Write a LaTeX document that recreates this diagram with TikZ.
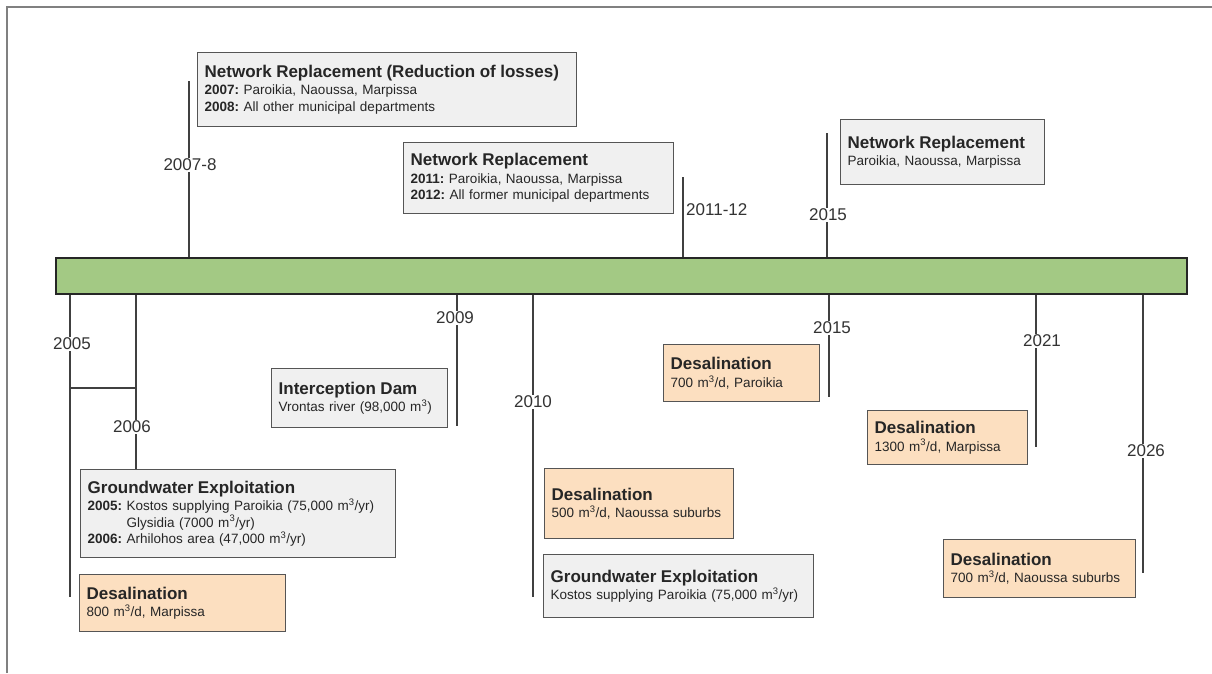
\documentclass[tikz,border=0pt]{standalone}
\usepackage{fontspec}
\setmainfont{Liberation Sans}
\usepackage{tikz}

\definecolor{barGreen}{HTML}{A3C984}
\definecolor{boxGray}{HTML}{F0F0F0}
\definecolor{boxPeach}{HTML}{FCDFC0}
\definecolor{edgeGray}{HTML}{555555}

\newcommand{\cubic}{m\textsuperscript{3}}
\newcommand{\boxtitle}[1]{{\fontsize{17}{20}\selectfont\bfseries #1}\\[1pt]}

\begin{document}
\frenchspacing
\begin{tikzpicture}[x=1pt,y=-1pt,
    infobox/.style={draw=edgeGray, line width=1.4pt, fill=boxGray,
      anchor=north west, inner xsep=7pt, inner ysep=0pt, align=left,
      font=\fontsize{13.5}{16.5}\selectfont, text=black!85},
    desalbox/.style={infobox, fill=boxPeach},
    yearlbl/.style={fill=white, inner sep=1pt,
      font=\fontsize{17}{20}\selectfont, text=black!80},
    tick/.style={draw=black!75, line width=1.3pt},
    timebar/.style={draw=black!85, line width=2pt, fill=barGreen,
      anchor=north west, inner sep=0pt}]

    % Fix the page size
    \useasboundingbox (0,0) rectangle (1212,673);

    % Draw frame
    \draw[black!50, line width=2pt] (7,673) -- (7,7) -- (1212,7);

    % Draw time line
    \node[timebar, minimum width=1131pt, minimum height=36pt] (bar) at (55,257) {};

    % Tick ends above the bar
    \coordinate (t0708) at (189,81);
    \coordinate (t1112) at (683,177);
    \coordinate (t2015) at (827,133);

    % Tick ends below the bar
    \coordinate (b2005) at (70,597);
    \coordinate (b2006) at (136,469);
    \coordinate (b2009) at (457,426);
    \coordinate (b2010) at (533,597);
    \coordinate (b2015) at (829,397);
    \coordinate (b2021) at (1036,447);
    \coordinate (b2026) at (1143,573);

    % Draw ticks
    \draw[tick] (bar.north -| t0708) -- (t0708);
    \draw[tick] (bar.north -| t1112) -- (t1112);
    \draw[tick] (bar.north -| t2015) -- (t2015);
    \draw[tick] (bar.south -| b2005) -- (b2005);
    \draw[tick] (bar.south -| b2006) -- (b2006);
    \draw[tick] (bar.south -| b2009) -- (b2009);
    \draw[tick] (bar.south -| b2010) -- (b2010);
    \draw[tick] (bar.south -| b2015) -- (b2015);
    \draw[tick] (bar.south -| b2021) -- (b2021);
    \draw[tick] (bar.south -| b2026) -- (b2026);

    % Join 2005 and 2006
    \coordinate (j2005) at (70,388);
    \draw[tick] (j2005) -- (j2005 -| b2006);

    % Year labels
    \node[yearlbl] (y0708) at (190,165) {2007-8};
    \node[yearlbl, anchor=west] (y1112) at (685,210) {2011-12};
    \node[yearlbl] (y2015a) at (828,215) {2015};
    \node[yearlbl] (y2005) at (72,344) {2005};
    \node[yearlbl] (y2006) at (132,427) {2006};
    \node[yearlbl] (y2009) at (455,318) {2009};
    \node[yearlbl] (y2010) at (533,402) {2010};
    \node[yearlbl] (y2015b) at (832,328) {2015};
    \node[yearlbl] (y2021) at (1042,341) {2021};
    \node[yearlbl] (y2026) at (1146,451) {2026};

    % Boxes above the bar
    \node[infobox, text width=365pt, minimum height=74pt] (nr0708) at (197,52)
      {\boxtitle{Network Replacement (Reduction of losses)}
       \textbf{2007:} Paroikia, Naoussa, Marpissa\\
       \textbf{2008:} All other municipal departments};
    \node[infobox, text width=256pt, minimum height=71pt] (nr1112) at (403,142)
      {\boxtitle{Network Replacement}
       \textbf{2011:} Paroikia, Naoussa, Marpissa\\
       \textbf{2012:} All former municipal departments};
    \node[infobox, text width=190pt, minimum height=65pt] (nr2015) at (840,119)
      {\boxtitle{Network Replacement}
       Paroikia, Naoussa, Marpissa};

    % Boxes below the bar
    \node[infobox, text width=162pt, minimum height=59pt] (dam) at (271,368)
      {\boxtitle{Interception Dam}
       Vrontas river (98,000 \cubic)};
    \node[infobox, text width=301pt, minimum height=88pt] (gw0506) at (80,469)
      {\boxtitle{Groundwater Exploitation}
       \textbf{2005:} Kostos supplying Paroikia (75,000 \cubic/yr)\\
       \hphantom{\textbf{2005:} }Glysidia (7000 \cubic/yr)\\
       \textbf{2006:} Arhilohos area (47,000 \cubic/yr)};
    \node[desalbox, text width=192pt, minimum height=57pt] (ds2005) at (79,574)
      {\boxtitle{Desalination}
       800 \cubic/d, Marpissa};
    \node[desalbox, text width=142pt, minimum height=57pt] (ds2015) at (663,344)
      {\boxtitle{Desalination}
       700 \cubic/d, Paroikia};
    \node[desalbox, text width=175pt, minimum height=70pt] (ds2010) at (544,468)
      {\boxtitle{Desalination}
       500 \cubic/d, Naoussa suburbs};
    \node[infobox, text width=256pt, minimum height=63pt] (gw2010) at (543,554)
      {\boxtitle{Groundwater Exploitation}
       Kostos supplying Paroikia (75,000 \cubic/yr)};
    \node[desalbox, text width=146pt, minimum height=54pt] (ds2021) at (867,410)
      {\boxtitle{Desalination}
       1300 \cubic/d, Marpissa};
    \node[desalbox, text width=178pt, minimum height=58pt] (ds2026) at (943,539)
      {\boxtitle{Desalination}
       700 \cubic/d, Naoussa suburbs};
\end{tikzpicture}
\end{document}
